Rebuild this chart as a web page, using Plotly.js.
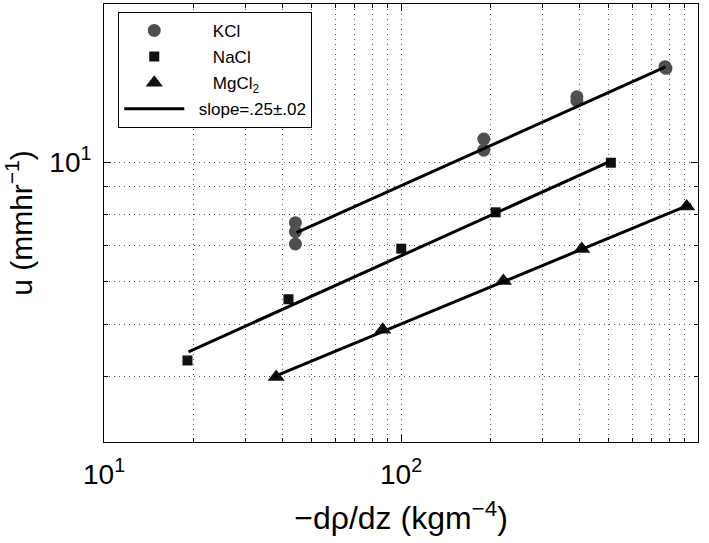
<!DOCTYPE html>
<html>
<head>
<meta charset="utf-8">
<script src="https://cdn.plot.ly/plotly-3.0.1.min.js"></script>
<style>html,body{margin:0;padding:0;background:#fff;}#chart{width:709px;height:543px;}</style>
</head>
<body>
<div id="chart"></div>
<script>
// Data
const kclX = [44.1, 44.1, 44.1, 190, 190, 391, 391, 774, 780];
const kclY = [7.72, 7.43, 7.05, 11.03, 10.52, 13.21, 12.99, 15.02, 14.91];

const naclX = [19.1, 41.8, 100.2, 208.3, 508.9];
const naclY = [4.29, 5.57, 6.91, 8.07, 9.97];

const mgX = [38.0, 86.8, 221.2, 406.2, 916];
const mgY = [4.00, 4.89, 6.02, 6.90, 8.27];

// fitted lines (end points)
const fitKclX = [44.5, 777];
const fitKclY = [7.4, 15.0];
const fitNaclX = [19.25, 502];
const fitNaclY = [4.45, 10.01];
const fitMgX = [37.2, 947];
const fitMgY = [4.00, 8.36];

const seriesNames = ['KCl', 'NaCl', 'MgCl<sub>2</sub>', 'slope=.25±.02'];

const xTickVals = [10, 100, 1000];
const xTickText = ['10<sup>1</sup>', '10<sup>2</sup>', '10<sup>3</sup>'];
const xMinorVals = [20,30,40,50,60,70,80,90,200,300,400,500,600,700,800,900];
const yTickVals = [10];
const yTickText = ['10<sup>1</sup>'];
const yMinorVals = [4,5,6,7,8,9];

const FONT = '"Liberation Sans", Arial, Helvetica, sans-serif';
const PAD = '\u00a0\u00a0\u00a0\u00a0\u00a0';

const traces = [
  {x: kclX, y: kclY, mode: 'markers', name: PAD + seriesNames[0], legendgroup: 'a',
   marker: {symbol: 'circle', size: 13, color: '#4f4f4f'}},
  {x: naclX, y: naclY, mode: 'markers', name: PAD + seriesNames[1], legendgroup: 'b',
   marker: {symbol: 'square', size: 10, color: '#111'}},
  {x: mgX, y: mgY, mode: 'markers', name: PAD + seriesNames[2], legendgroup: 'c',
   marker: {symbol: 'triangle-up', size: 15, color: '#111'}},
  {x: fitKclX, y: fitKclY, mode: 'lines', name: '\u00a0\u00a0' + seriesNames[3], legendgroup: 'd',
   line: {color: '#000', width: 3}},
  {x: fitNaclX, y: fitNaclY, mode: 'lines', showlegend: false, legendgroup: 'd',
   line: {color: '#000', width: 3}},
  {x: fitMgX, y: fitMgY, mode: 'lines', showlegend: false, legendgroup: 'd',
   line: {color: '#000', width: 3}}
];

const gridStyle = {showgrid: true, gridcolor: '#555', gridwidth: 1, griddash: '1px,4px'};

function makeAxis(extra, minorVals) {
  return Object.assign({
    type: 'log',
    showline: true, linecolor: '#000', linewidth: 1, mirror: 'ticks',
    ticks: 'inside', ticklen: 7, tickcolor: '#000', tickwidth: 1,
    zeroline: false,
    tickfont: {family: FONT, size: 28, color: '#000'},
    tickmode: 'array',
    minor: Object.assign({tickmode: 'array', tickvals: minorVals, ticks: 'inside', ticklen: 4, tickcolor: '#000', tickwidth: 1}, gridStyle)
  }, gridStyle, extra);
}

const layout = {
  width: 709, height: 543,
  margin: {l: 104, r: 11, t: 4, b: 101},
  paper_bgcolor: '#fff', plot_bgcolor: '#fff',
  font: {family: FONT, color: '#000'},
  showlegend: true,
  xaxis: makeAxis({
    range: [1, 3],
    tickvals: xTickVals, ticktext: xTickText,
    ticklabelstandoff: 7,
    title: {text: '\u2212d\u03c1/dz (kgm<sup>\u22124</sup>)', font: {family: FONT, size: 32, color: '#000'}, standoff: 18}
  }, xMinorVals),
  yaxis: makeAxis({
    range: [Math.log10(3.03), Math.log10(19.62)],
    tickvals: yTickVals, ticktext: yTickText,
    ticklabelstandoff: 6,
    title: {text: 'u (mmhr<sup>\u22121</sup>)', font: {family: FONT, size: 30, color: '#000'}, standoff: 10}
  }, yMinorVals),
  legend: {
    x: 0.024, y: 0.982, xanchor: 'left', yanchor: 'top',
    bgcolor: '#fff', bordercolor: '#000', borderwidth: 1,
    font: {family: FONT, size: 17, color: '#000'},
    traceorder: 'grouped', tracegroupgap: 1,
    itemwidth: 60
  }
};

Plotly.newPlot('chart', traces, layout, {displayModeBar: false, staticPlot: true});
</script>
</body>
</html>
